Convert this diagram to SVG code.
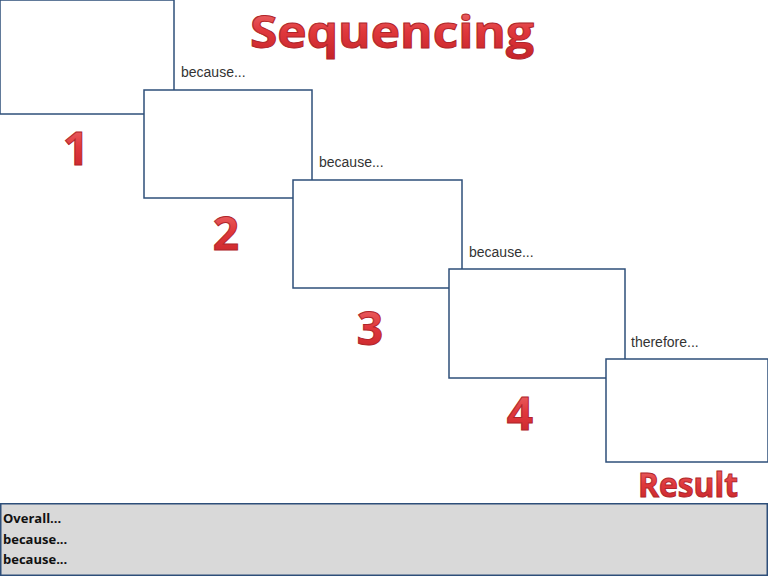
<svg xmlns="http://www.w3.org/2000/svg" width="768" height="576" viewBox="0 0 768 576">
<defs>
<linearGradient id="red" x1="0" y1="0" x2="0" y2="1">
<stop offset="0" stop-color="#f07a7a"/><stop offset="0.5" stop-color="#e0383c"/><stop offset="1" stop-color="#c42228"/>
</linearGradient>
</defs>
<style>
.box{fill:#fff;stroke:#2e4f7a;stroke-width:1.5}
.lbl{font-family:"Liberation Sans",Arial,sans-serif;font-size:14px;fill:#333}
.big{font-family:"Open Sans","Liberation Sans",sans-serif;font-weight:bold;fill:url(#red);stroke:#b0262a;stroke-width:1}
.ov{font-family:"Open Sans","Liberation Sans",sans-serif;font-weight:bold;font-size:13px;fill:#111}
</style>
<rect width="768" height="576" fill="#fff"/>
<text class="big" x="392" y="48" font-size="44" text-anchor="middle" textLength="284" lengthAdjust="spacingAndGlyphs">Sequencing</text>
<g id="node1"><rect class="box" x="0" y="0" width="174" height="114"/><text class="big" x="76" y="165" font-size="46" text-anchor="middle">1</text></g>
<g id="node2"><rect class="box" x="144" y="90" width="168" height="108"/><text class="big" x="226" y="250" font-size="46" text-anchor="middle">2</text></g>
<g id="node3"><rect class="box" x="293" y="180" width="169" height="108"/><text class="big" x="370" y="345" font-size="46" text-anchor="middle">3</text></g>
<g id="node4"><rect class="box" x="449" y="269" width="176" height="109"/><text class="big" x="520" y="430" font-size="46" text-anchor="middle">4</text></g>
<g id="result"><rect class="box" x="606" y="359" width="162" height="103"/><text class="big" x="688" y="497" font-size="34" text-anchor="middle" textLength="100" lengthAdjust="spacingAndGlyphs">Result</text></g>
<g id="connectors">
<text class="lbl" x="181" y="77">because...</text>
<text class="lbl" x="319" y="167">because...</text>
<text class="lbl" x="469" y="257">because...</text>
<text class="lbl" x="631" y="347">therefore...</text>
</g>
<g id="overall">
<rect x="0.75" y="503.75" width="766.5" height="71.5" fill="#d9d9d9" stroke="#2e4f7a" stroke-width="1.5"/>
<text class="ov" x="3" y="523">Overall...</text>
<text class="ov" x="3" y="544">because...</text>
<text class="ov" x="3" y="564">because...</text>
</g>
</svg>
